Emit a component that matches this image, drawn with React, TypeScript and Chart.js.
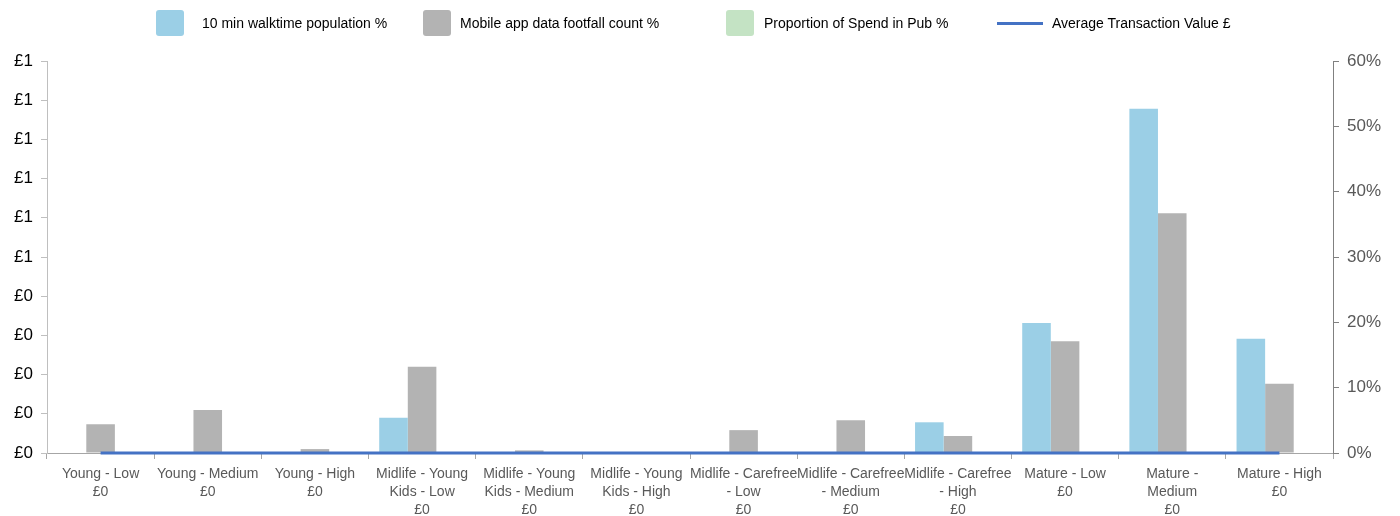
import React, { useEffect, useRef } from "react";
import { Chart, registerables } from "chart.js";

Chart.register(...registerables);

const categories: string[][] = [
  ["Young - Low", "£0"],
  ["Young - Medium", "£0"],
  ["Young - High", "£0"],
  ["Midlife - Young", "Kids - Low", "£0"],
  ["Midlife - Young", "Kids - Medium", "£0"],
  ["Midlife - Young", "Kids - High", "£0"],
  ["Midlife - Carefree", "- Low", "£0"],
  ["Midlife - Carefree", "- Medium", "£0"],
  ["Midlife - Carefree", "- High", "£0"],
  ["Mature - Low", "£0"],
  ["Mature -", "Medium", "£0"],
  ["Mature - High", "£0"],
];

const walktimePopulation: number[] = [0, 0, 0, 5.4, 0, 0, 0, 0, 4.7, 19.9, 52.7, 17.5];
const footfallCount: number[] = [4.4, 6.6, 0.6, 13.2, 0.4, 0, 3.5, 5.0, 2.6, 17.1, 36.7, 10.6];
const spendInPub: number[] = [0, 0, 0, 0, 0, 0, 0, 0, 0, 0, 0, 0];
const avgTransactionValue: number[] = [0, 0, 0, 0, 0, 0, 0, 0, 0, 0, 0, 0];

const seriesNames = [
  "10 min walktime population %",
  "Mobile app data footfall count %",
  "Proportion of Spend in Pub %",
  "Average Transaction Value £",
];

const COLORS = {
  blue: "#9BCFE6",
  grey: "#B3B3B3",
  green: "#C4E3C4",
  line: "#4472C4",
};

const FONT = "'Liberation Sans', Arial, sans-serif";

export default function App() {
  const ref = useRef<HTMLCanvasElement | null>(null);

  useEffect(() => {
    if (!ref.current) return;
    const chart = new Chart(ref.current, {
      type: "bar",
      data: {
        labels: categories,
        datasets: [
          {
            type: "bar",
            label: seriesNames[0],
            data: walktimePopulation,
            backgroundColor: COLORS.blue,
            yAxisID: "y1",
            categoryPercentage: 0.8,
            barPercentage: 1,
            order: 1,
          },
          {
            type: "bar",
            label: seriesNames[1],
            data: footfallCount,
            backgroundColor: COLORS.grey,
            yAxisID: "y1",
            categoryPercentage: 0.8,
            barPercentage: 1,
            order: 1,
          },
          {
            type: "bar",
            label: seriesNames[2],
            data: spendInPub,
            backgroundColor: COLORS.green,
            yAxisID: "y1",
            categoryPercentage: 0.8,
            barPercentage: 1,
            order: 1,
          },
          {
            type: "line",
            label: seriesNames[3],
            data: avgTransactionValue,
            borderColor: COLORS.line,
            backgroundColor: COLORS.line,
            borderWidth: 3,
            pointRadius: 0,
            yAxisID: "y",
            order: -1,
            clip: 10,
          } as any,
        ],
      },
      options: {
        responsive: false,
        animation: false,
        layout: { padding: { top: 61, left: 0, right: 0, bottom: 0 } },
        plugins: {
          legend: { display: false },
          tooltip: { enabled: false },
        },
        scales: {
          x: {
            grid: {
              display: true,
              drawOnChartArea: false,
              drawTicks: true,
              tickLength: 6,
              color: "#A6A6A6",
              offset: true,
            },
            border: { display: true, color: "#A6A6A6" },
            ticks: {
              color: "#595959",
              font: { family: FONT, size: 14, lineHeight: 1.29 },
              padding: 6,
              maxRotation: 0,
              minRotation: 0,
              autoSkip: false,
            },
            afterFit: (s: any) => {
              s.height = 63;
            },
          },
          y: {
            position: "left",
            min: 0,
            max: 1,
            grid: {
              display: true,
              drawOnChartArea: false,
              drawTicks: true,
              tickLength: 6,
              color: "#BFBFBF",
            },
            border: { display: true, color: "#BFBFBF" },
            ticks: {
              stepSize: 0.1,
              color: "#000000",
              font: { family: FONT, size: 17 },
              padding: 8,
              callback: (v: any) => {
                const r = Math.round(Number(v) * 10) / 10;
                return "£" + (r >= 0.5 ? 1 : 0);
              },
            },
            afterFit: (s: any) => {
              s.width = 47;
            },
          },
          y1: {
            position: "right",
            min: 0,
            max: 60,
            grid: {
              display: true,
              drawOnChartArea: false,
              drawTicks: true,
              tickLength: 6,
              color: "#808080",
            },
            border: { display: true, color: "#808080" },
            ticks: {
              stepSize: 10,
              color: "#595959",
              font: { family: FONT, size: 17 },
              padding: 8,
              callback: (v: any) => Math.round(Number(v)) + "%",
            },
            afterFit: (s: any) => {
              s.width = 67;
            },
          },
        },
      },
    });
    return () => chart.destroy();
  }, []);

  const legendItems = [
    { name: seriesNames[0], left: 156, gap: 18, kind: "box", color: COLORS.blue },
    { name: seriesNames[1], left: 423, gap: 9, kind: "box", color: COLORS.grey },
    { name: seriesNames[2], left: 726, gap: 10, kind: "box", color: COLORS.green },
    { name: seriesNames[3], left: 997, gap: 9, kind: "line", color: COLORS.line },
  ];

  return (
    <div style={{ position: "absolute", left: 0, top: 0, width: 1400, height: 516, background: "#fff" }}>
      <canvas ref={ref} width={1400} height={516} style={{ position: "absolute", left: 0, top: 0 }} />
      {legendItems.map((it) => (
        <div
          key={it.name}
          style={{
            position: "absolute",
            left: it.left,
            top: 10,
            height: 26,
            display: "flex",
            alignItems: "center",
            fontFamily: FONT,
            fontSize: 14,
            color: "#000",
            whiteSpace: "nowrap",
          }}
        >
          {it.kind === "box" ? (
            <span
              style={{
                display: "inline-block",
                width: 28,
                height: 26,
                background: it.color,
                borderRadius: 3,
                marginRight: it.gap,
              }}
            />
          ) : (
            <span
              style={{
                display: "inline-block",
                width: 46,
                height: 3,
                background: it.color,
                marginRight: it.gap,
              }}
            />
          )}
          <span>{it.name}</span>
        </div>
      ))}
    </div>
  );
}
